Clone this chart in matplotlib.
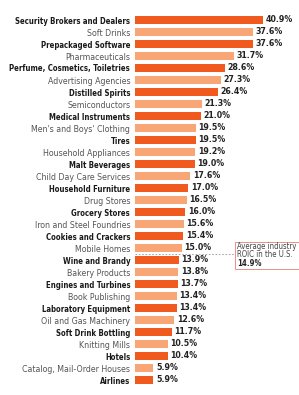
import matplotlib
matplotlib.use("Agg")
import matplotlib.pyplot as plt
from matplotlib import font_manager
from matplotlib.patches import Rectangle

categories = [
    "Security Brokers and Dealers", "Soft Drinks", "Prepackaged Software",
    "Pharmaceuticals", "Perfume, Cosmetics, Toiletries", "Advertising Agencies",
    "Distilled Spirits", "Semiconductors", "Medical Instruments",
    "Men's and Boys' Clothing", "Tires", "Household Appliances",
    "Malt Beverages", "Child Day Care Services", "Household Furniture",
    "Drug Stores", "Grocery Stores", "Iron and Steel Foundries",
    "Cookies and Crackers", "Mobile Homes", "Wine and Brandy",
    "Bakery Products", "Engines and Turbines", "Book Publishing",
    "Laboratory Equipment", "Oil and Gas Machinery", "Soft Drink Bottling",
    "Knitting Mills", "Hotels", "Catalog, Mail-Order Houses", "Airlines",
]
values = [40.9, 37.6, 37.6, 31.7, 28.6, 27.3, 26.4, 21.3, 21.0, 19.5, 19.5,
          19.2, 19.0, 17.6, 17.0, 16.5, 16.0, 15.6, 15.4, 15.0, 13.9, 13.8,
          13.7, 13.4, 13.4, 12.6, 11.7, 10.5, 10.4, 5.9, 5.9]
average = 14.9
avg_label = "Average industry\nROIC in the U.S."

# look for a condensed / narrow face installed on the system
bold_file = None
reg_file = None
for f in font_manager.fontManager.ttflist:
    fn = f.fname.lower()
    if ("condensed" in fn or "narrow" in fn) and ("sans" in fn) and "mono" not in fn and "oblique" not in fn and "italic" not in fn:
        if "bold" in fn and bold_file is None:
            bold_file = f.fname
        elif "bold" not in fn and reg_file is None:
            reg_file = f.fname

if bold_file and reg_file:
    fp_bold = font_manager.FontProperties(fname=bold_file, size=5.6)
    fp_reg = font_manager.FontProperties(fname=reg_file, size=6.3)
    fp_val = font_manager.FontProperties(fname=bold_file, size=6.3)
    fp_box = font_manager.FontProperties(fname=reg_file, size=5.6)
    fp_boxb = font_manager.FontProperties(fname=bold_file, size=5.6)
else:
    fp_bold = font_manager.FontProperties(family="DejaVu Sans", weight="bold", size=4.6)
    fp_reg = font_manager.FontProperties(family="DejaVu Sans", size=5.0)
    fp_val = font_manager.FontProperties(family="DejaVu Sans", weight="bold", size=5.6)
    fp_box = font_manager.FontProperties(family="DejaVu Sans", size=4.6)
    fp_boxb = font_manager.FontProperties(family="DejaVu Sans", weight="bold", size=4.6)

dark = "#F05A1E"
light = "#F9A676"

fig = plt.figure(figsize=(2.99, 3.95), dpi=100)
ax = fig.add_axes([135 / 299, 1 - 386 / 395, 163 / 299, 372 / 395])

n = len(categories)
ypos = list(range(n))
colors = [dark if i % 2 == 0 else light for i in range(n)]
ax.barh(ypos, values, height=0.68, color=colors, zorder=2)

for y, v in zip(ypos, values):
    ax.text(v + 0.8, y, f"{v:.1f}%", va="center", ha="left",
            fontproperties=fp_val, color="#222222")

ax.set_xlim(0, 52)
ax.set_ylim(n - 0.5, -0.5)
ax.set_yticks(ypos)
ax.set_yticklabels(categories)
for i, lab in enumerate(ax.get_yticklabels()):
    if i % 2 == 0:
        lab.set_fontproperties(fp_bold)
        lab.set_color("#1a1a1a")
    else:
        lab.set_fontproperties(fp_reg)
        lab.set_color("#555555")
ax.tick_params(axis="y", length=0, pad=3.5)
ax.set_xticks([])
for s in ax.spines.values():
    s.set_visible(False)

# average line between Mobile Homes and Wine and Brandy
ax.plot([0, 32], [19.5, 19.5], ls=(0, (2, 2)), color="#999999", lw=0.6, zorder=1)
ax.add_patch(Rectangle((32, 18.5), 30, 2.25, fc="white", ec="#E8908A", lw=0.7,
                       clip_on=False, zorder=3))
ax.text(32.6, 19.2, avg_label, ha="left", va="center", fontproperties=fp_box,
        color="#444444", linespacing=0.95, clip_on=False, zorder=4)
ax.text(32.6, 20.25, f"{average:.1f}%", ha="left", va="center",
        fontproperties=fp_boxb, color="#222222", clip_on=False, zorder=4)

fig.savefig("out.png", dpi=100)
